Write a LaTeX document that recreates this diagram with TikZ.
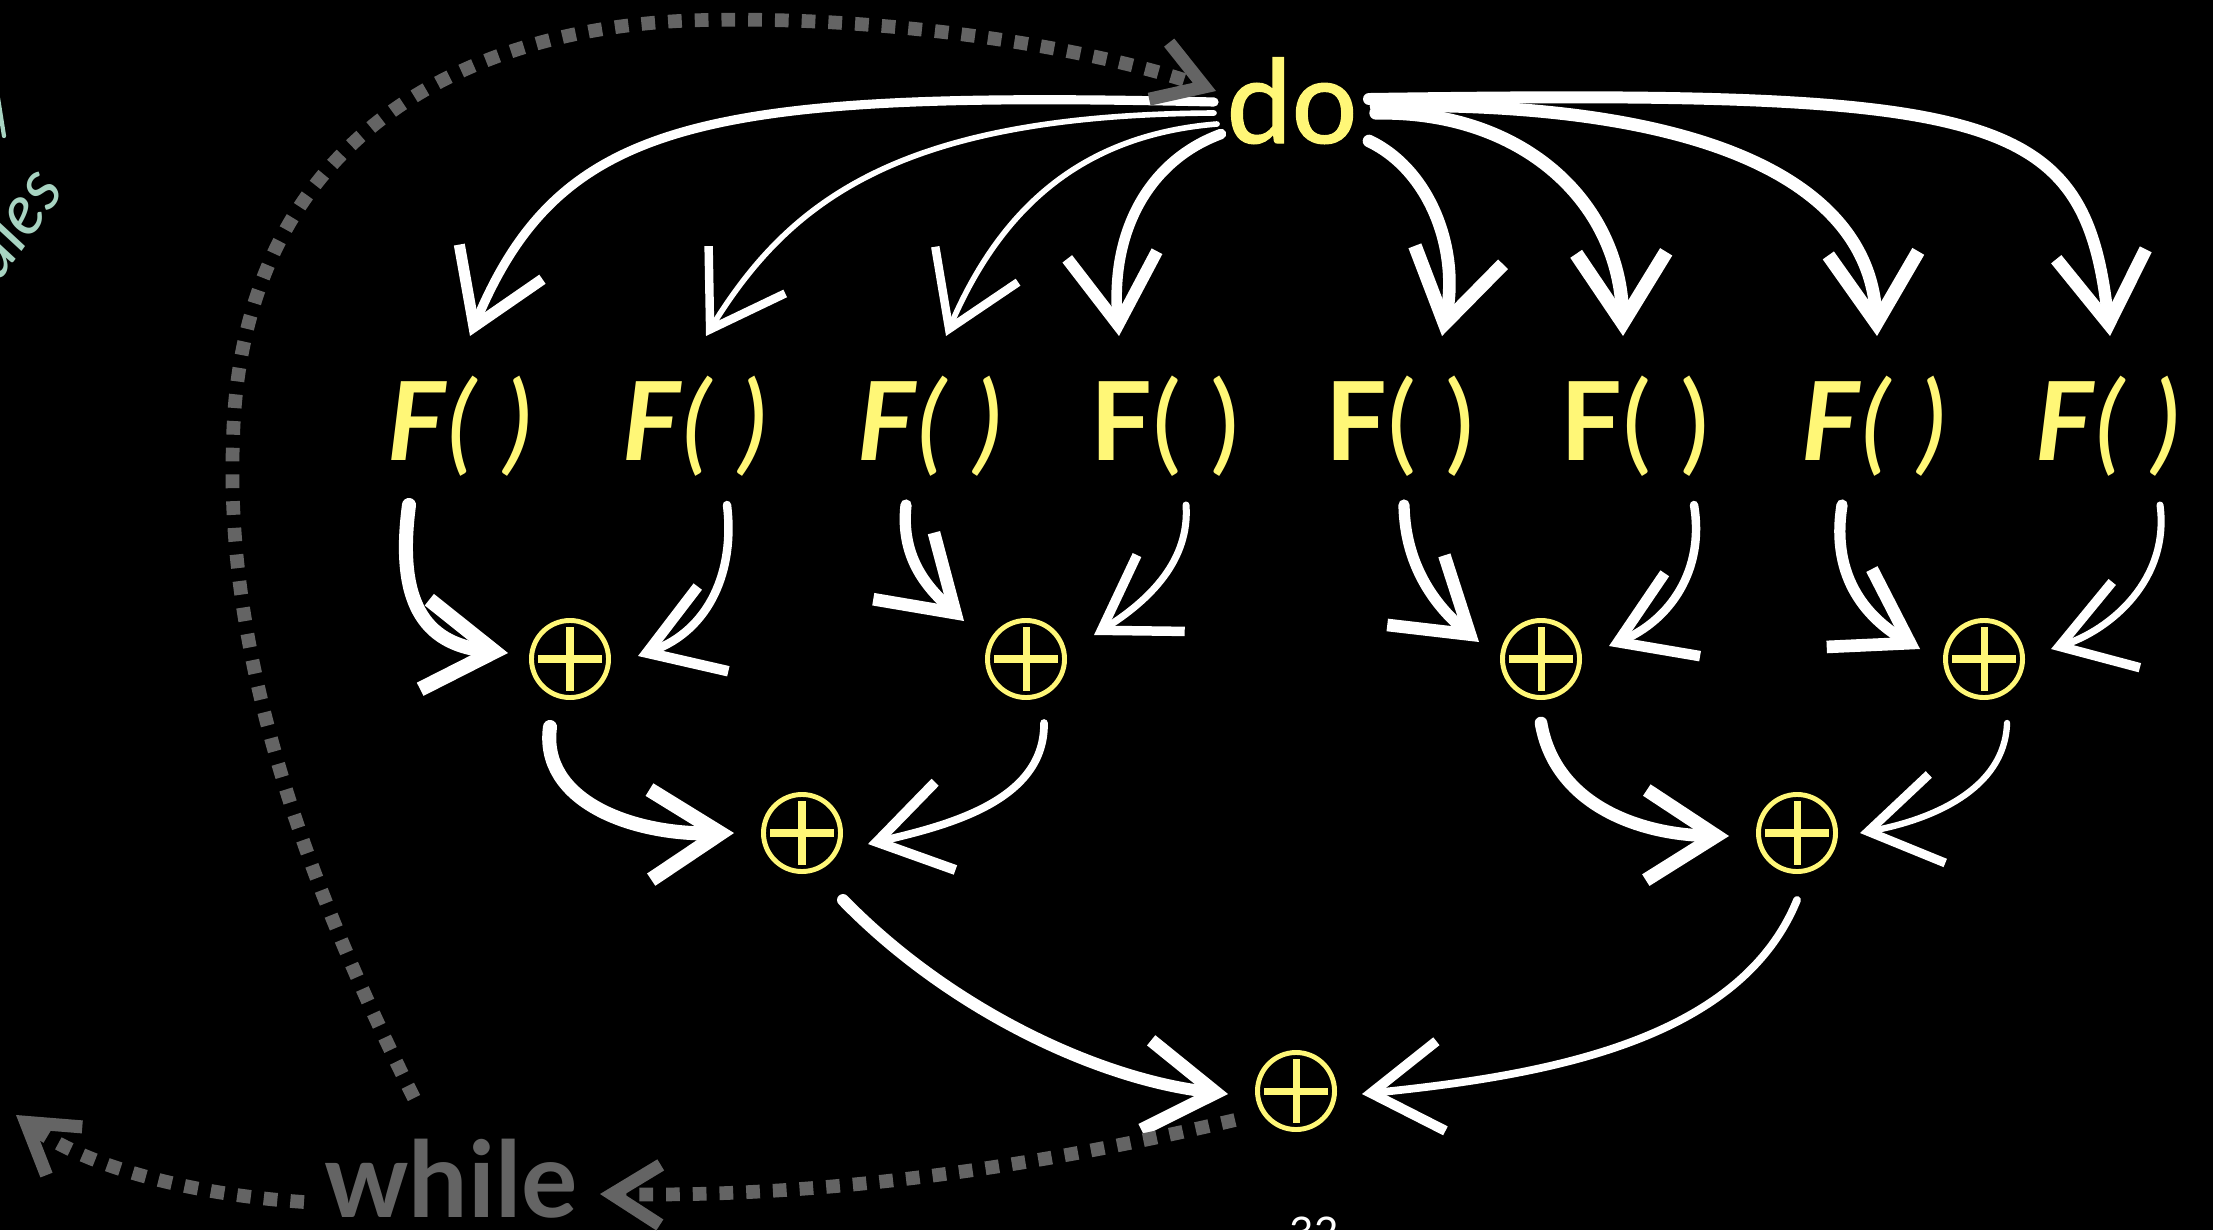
\documentclass[tikz,border=0pt]{standalone}
\usepackage{fontspec}
\setmainfont{Lato}
\newfontfamily\domed[FakeBold=1.2]{Lato}
\usetikzlibrary{arrows.meta,calc}
\definecolor{fyel}{RGB}{255,247,119}
\definecolor{dgray}{RGB}{100,100,100}
\definecolor{mint}{RGB}{168,212,194}
\begin{document}
\begin{tikzpicture}[x=0.01cm,y=-0.01cm,
  fnode/.style={text=fyel, font=\fontsize{31}{36}\selectfont, anchor=base, inner sep=0pt},
  opnode/.style={circle, draw=fyel, line width=1.4pt, minimum size=0.77cm, inner sep=0pt,
    path picture={\draw[fyel, line width=2pt]
      ($(path picture bounding box.center)+(-32,0)$) -- ($(path picture bounding box.center)+(32,0)$)
      ($(path picture bounding box.center)+(0,-32)$) -- ($(path picture bounding box.center)+(0,32)$);}},
  warr/.style={draw=white, line width=#1, line cap=round,
    -{Straight Barb[length=0.7cm, width=0.9cm, line width=1.2pt 0.75]}},
  dotline/.style={draw=dgray, line width=3.9pt, dash pattern=on 3.9pt off 3.7pt,
    -{Straight Barb[length=0.48cm, width=0.6cm, line width=3.7pt]}},
  wordnode/.style={anchor=base, inner sep=0pt, font=\fontsize{30}{36}\selectfont}
]
\useasboundingbox (0,0) rectangle (2213,1230);
\fill[black] (0,0) rectangle (2213,1230);

% texts
\node[wordnode, text=fyel, font=\domed\fontsize{33}{38}\selectfont] (do) at (1292,143) {do};
\node[fnode] (f1) at (460,460) {\textbf{\itshape F}\itshape(\hspace{0.26em})};
\node[fnode] (f2) at (695,460) {\textbf{\itshape F}\itshape(\hspace{0.26em})};
\node[fnode] (f3) at (930,460) {\textbf{\itshape F}\itshape(\hspace{0.26em})};
\node[fnode] (f4) at (1165,460) {\textbf{F}(\hspace{0.26em})};
\node[fnode] (f5) at (1400,460) {\textbf{F}(\hspace{0.26em})};
\node[fnode] (f6) at (1635,460) {\textbf{F}(\hspace{0.26em})};
\node[fnode] (f7) at (1874,460) {\textbf{\itshape F}\itshape(\hspace{0.26em})};
\node[fnode] (f8) at (2108,460) {\textbf{\itshape F}\itshape(\hspace{0.26em})};

\node[opnode] (o1) at (570,659) {};
\node[opnode] (o2) at (1026,659) {};
\node[opnode] (o3) at (1541,659) {};
\node[opnode] (o4) at (1984,659) {};
\node[opnode] (p1) at (802,833) {};
\node[opnode] (p2) at (1797,833) {};
\node[opnode] (q) at (1296,1091) {};

\node[wordnode, text=dgray, font=\bfseries\fontsize{30}{36}\selectfont] (wh) at (451,1217) {while};
\node[anchor=base, inner sep=0pt, text=white, font=\fontsize{12}{14}\selectfont] (num) at (1322,1247) {32-};
\node[anchor=base west, inner sep=0pt, rotate=54, text=mint, font=\itshape\fontsize{20}{22}\selectfont] (hw) at (-2,284) {uies};
\draw[mint, line width=1.2pt, line cap=round] (-2,98) -- (4,136);

% do -> F
\draw[warr=2.6pt] ($(do.base)+(-78,-41)$) .. controls (700,90) and (560,120) .. ($(f1.base)+(10,-124)$);
\draw[warr=1.6pt] ($(do.base)+(-78,-30)$) .. controls (900,115) and (790,200) .. ($(f2.base)+(11,-124)$);
\draw[warr=1.6pt] ($(do.base)+(-75,-19)$) .. controls (1080,135) and (1000,210) .. ($(f3.base)+(16,-124)$);
\draw[warr=3pt] ($(do.base)+(-71,-9)$) .. controls (1150,160) and (1110,230) .. ($(f4.base)+(-46,-124)$);
\draw[warr=3.6pt] ($(do.base)+(77,-2)$) .. controls (1430,170) and (1460,250) .. ($(f5.base)+(42,-124)$);
\draw[warr=3.8pt] ($(do.base)+(84,-30)$) .. controls (1520,110) and (1620,200) .. ($(f6.base)+(-12,-124)$);
\draw[warr=3.6pt] ($(do.base)+(84,-37)$) .. controls (1700,100) and (1870,180) .. ($(f7.base)+(3,-124)$);
\draw[warr=3.4pt] ($(do.base)+(77,-44)$) .. controls (2000,90) and (2085,110) .. ($(f8.base)+(2,-124)$);

% F -> level 1
\draw[warr=4pt] ($(f1.base)+(-51,45)$) .. controls (395,610) and (430,645) .. ($(o1)+(-62,-6)$);
\draw[warr=2.4pt] ($(f2.base)+(32,45)$) .. controls (735,570) and (710,630) .. ($(o1)+(68,-3)$);
\draw[warr=3.2pt] ($(f3.base)+(-24,45)$) .. controls (900,560) and (930,590) .. ($(o2)+(-62,-38)$);
\draw[warr=2pt] ($(f4.base)+(21,45)$) .. controls (1190,560) and (1150,600) .. ($(o2)+(68,-24)$);
\draw[warr=3.2pt] ($(f5.base)+(4,45)$) .. controls (1405,570) and (1440,610) .. ($(o3)+(-62,-17)$);
\draw[warr=2.4pt] ($(f6.base)+(59,45)$) .. controls (1705,570) and (1670,620) .. ($(o3)+(68,-13)$);
\draw[warr=3.2pt] ($(f7.base)+(-32,45)$) .. controls (1830,580) and (1870,620) .. ($(o4)+(-64,-10)$);
\draw[warr=2pt] ($(f8.base)+(52,45)$) .. controls (2170,580) and (2110,630) .. ($(o4)+(67,-10)$);

% level 1 -> level 2
\draw[warr=4pt] ($(o1)+(-20,68)$) .. controls (540,800) and (630,835) .. ($(p1)+(-68,0)$);
\draw[warr=2.2pt] ($(o2)+(18,64)$) .. controls (1045,800) and (950,825) .. ($(p1)+(66,11)$);
\draw[warr=3.6pt] ($(o3)+(0,64)$) .. controls (1555,805) and (1640,835) .. ($(p2)+(-68,3)$);
\draw[warr=1.8pt] ($(o4)+(23,64)$) .. controls (2005,790) and (1930,820) .. ($(p2)+(63,0)$);

% level 2 -> level 3
\draw[warr=3.4pt] ($(p1)+(41,67)$) .. controls (950,1010) and (1100,1080) .. ($(q)+(-68,3)$);
\draw[warr=2.2pt] ($(p2)+(0,67)$) .. controls (1740,1040) and (1550,1075) .. ($(q)+(66,3)$);

% dotted loop
\coordinate (corner) at (16,1115);
\draw[dotline] ($(wh.base)+(-37,-119)$) .. controls (300,870) and (225,650) .. (233,440)
   .. controls (240,150) and (450,25) .. (706,20)
   .. controls (900,16) and (1100,50) .. ($(do.base)+(-76,-52)$);
\draw[dotline] ($(q)+(-61,29)$) .. controls (1000,1175) and (800,1197) .. ($(wh.base)+(149,-23)$);
\draw[dotline] ($(wh.base)+(-147,-15)$) .. controls (200,1195) and (90,1170) .. (corner);
\end{tikzpicture}
\end{document}
